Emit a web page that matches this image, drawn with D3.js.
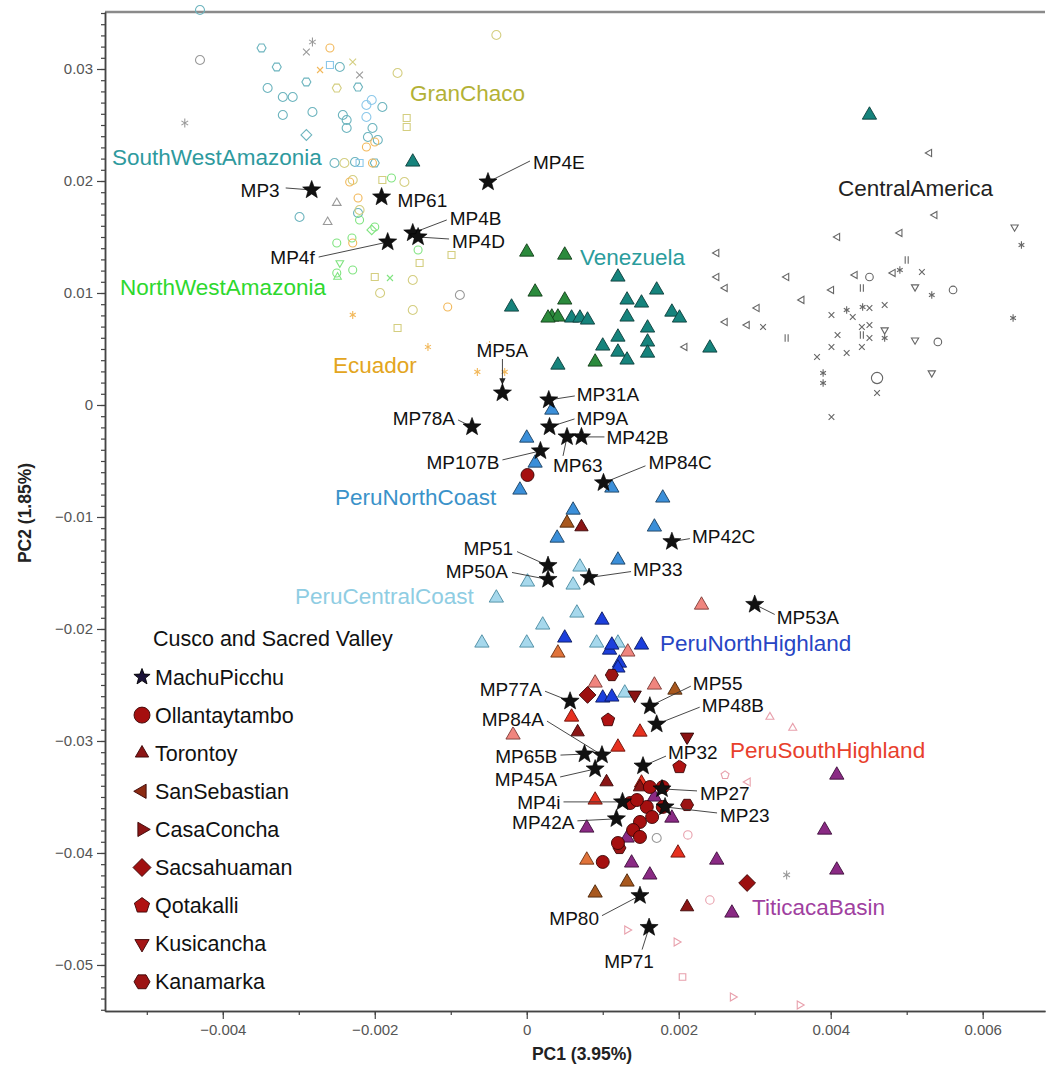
<!DOCTYPE html>
<html>
<head>
<meta charset="utf-8">
<script src="https://cdn.jsdelivr.net/npm/d3@7"></script>
<style>
  body { margin: 0; background: #fff; }
  svg { font-family: "Liberation Sans", Arial, Helvetica, sans-serif; }
</style>
</head>
<body>
<script>
(function(d3) {

  // ---- data (PC1, PC2) ----
  var xTicks = [-0.004, -0.002, 0, 0.002, 0.004, 0.006];
  var yTicks = [0.03, 0.02, 0.01, 0, -0.01, -0.02, -0.03, -0.04, -0.05];

  var machuPicchu = [
    ["MP3", -0.00283, 0.01920], ["MP61", -0.00191, 0.01857], ["MP4E", -0.00051, 0.01991],
    ["MP4B", -0.00150, 0.01536], ["MP4D", -0.00143, 0.01500], ["MP4f", -0.00183, 0.01455],
    ["MP5A", -0.00032, 0.00107], ["MP31A", 0.00029, 0.00045], ["MP9A", 0.00030, -0.00196],
    ["MP63", 0.00053, -0.00285], ["MP42B", 0.00072, -0.00285], ["MP107B", 0.00018, -0.00410],
    ["MP84C", 0.00101, -0.00695], ["MP78A", -0.00072, -0.00196], ["MP51", 0.00028, -0.01434],
    ["MP50A", 0.00028, -0.01558], ["MP33", 0.00082, -0.01541], ["MP42C", 0.00191, -0.01220],
    ["MP53A", 0.00300, -0.01781], ["MP77A", 0.00057, -0.02645], ["MP55", 0.00162, -0.02689],
    ["MP48B", 0.00171, -0.02850], ["MP65B", 0.00076, -0.03117], ["MP84A", 0.00099, -0.03126],
    ["MP45A", 0.00090, -0.03250], ["MP32", 0.00153, -0.03224], ["MP4i", 0.00126, -0.03544],
    ["MP42A", 0.00118, -0.03695], ["MP27", 0.00178, -0.03428], ["MP23", 0.00182, -0.03589],
    ["MP80", 0.00149, -0.04381], ["MP71", 0.00161, -0.04666]
  ];

  var venezuela = [
    [0.00120, 0.01143], [0.00171, 0.01027], [-0.00020, 0.00875], [0.00132, 0.00938], [0.00151, 0.00911],
    [0.00059, 0.00777], [0.00070, 0.00777], [0.00080, 0.00759], [0.00132, 0.00786], [0.00191, 0.00830],
    [0.00201, 0.00777], [0.00159, 0.00688], [0.00120, 0.00607], [0.00100, 0.00527], [0.00159, 0.00563],
    [0.00120, 0.00473], [0.00159, 0.00464], [0.00132, 0.00402], [0.00041, 0.00357], [0.00241, 0.00509],
    [0.00451, 0.02589], [-0.00150, 0.02170]
  ];
  var venezuelaGreen = [
    [0, 0.01366], [0.00050, 0.01339], [0.00011, 0.01009], [0.00050, 0.00938],
    [0.00033, 0.00786], [0.00041, 0.00786], [0.00090, 0.00384], [0.00028, 0.00777]
  ];
  var peruNorthCoast = [
    [0.00033, -0.00045], [0, -0.00295], [0.00011, -0.00518], [-0.00009, -0.00759], [0.00061, -0.00938],
    [0.00040, -0.01188], [0.00179, -0.00830], [0.00168, -0.01089], [0.00120, -0.01384], [0.00112, -0.00741]
  ];
  var peruCentralCoast = [
    [0.00001, -0.01580], [0.00070, -0.01446], [0.00061, -0.01607], [-0.00040, -0.01723], [0.00066, -0.01857],
    [0.00021, -0.01964], [-0.00059, -0.02125], [0, -0.02125], [0.00092, -0.02125], [0.00120, -0.02125],
    [0.00129, -0.02571]
  ];
  var peruNorthHighland = [
    [0.00050, -0.02080], [0.00099, -0.01920], [0.00109, -0.02188], [0.00151, -0.02143], [0.00122, -0.02304],
    [0.00100, -0.02616], [0.00112, -0.02607], [0.00120, -0.02348], [0.00112, -0.02143]
  ];
  var southHighlandRed = [
    [0.00059, -0.02786], [0.00149, -0.02920], [0.00120, -0.03054], [0.00090, -0.03527],
    [0.00199, -0.04000], [0.00151, -0.03375]
  ];
  var southHighlandSalmon = [
    [0.00230, -0.01786], [0.00133, -0.02205], [0.00168, -0.02500], [-0.00018, -0.02946], [0.00090, -0.02482]
  ];
  var southHighlandOrange = [[0.00041, -0.02214], [0.00079, -0.04063]];
  var southHighlandBrown = [[0.00195, -0.02545], [0.00132, -0.04259], [0.00090, -0.04357], [0.00053, -0.01054]];
  var titicacaBasin = [
    [0.00408, -0.03304], [0.00392, -0.03795], [0.00408, -0.04152], [0.00250, -0.04063], [0.00138, -0.04089],
    [0.00162, -0.04196], [0.00270, -0.04536], [0.00079, -0.03777], [0.00168, -0.03500], [0.00132, -0.03866],
    [0.00191, -0.03688]
  ];

  var ollantaytambo = [
    [0.00001, -0.00625], [0.00162, -0.03411], [0.00179, -0.03411], [0.00136, -0.03554], [0.00158, -0.03589],
    [0.00179, -0.03589], [0.00149, -0.03723], [0.00165, -0.03679], [0.00140, -0.03795], [0.00149, -0.03857],
    [0.00120, -0.03911], [0.00100, -0.04080], [0.00145, -0.03527]
  ];
  var torontoy = [[0.00067, -0.02920], [0.00211, -0.04482], [0.00072, -0.01089], [0.00149, -0.03411], [0.00105, -0.03366]];
  var sacsahuaman = [[0.00080, -0.02589], [0.00290, -0.04268]];
  var qotakalli = [[0.00201, -0.03232], [0.00107, -0.02813]];
  var kusicancha = [[0.00142, -0.02589], [0.00211, -0.02964]];
  var kanamarka = [[0.00112, -0.02411], [0.00211, -0.03571], [0.00122, -0.03955]];

  // background reference samples: [PC1, PC2, marker]
  var southWestAmazonia = [
    [-0.00430, 0.03527, "o"], [-0.00349, 0.03188, "hex"], [-0.00329, 0.03018, "hex"], [-0.00290, 0.02884, "hex"],
    [-0.00341, 0.02830, "o"], [-0.00321, 0.02750, "o"], [-0.00308, 0.02750, "o"], [-0.00321, 0.02589, "o"],
    [-0.00282, 0.02616, "o"], [-0.00242, 0.02589, "o"], [-0.00246, 0.03018, "o"], [-0.00222, 0.02839, "hex"],
    [-0.00237, 0.02473, "o"], [-0.00290, 0.02411, "d"], [-0.00253, 0.02161, "o"], [-0.00299, 0.01679, "o"],
    [-0.00222, 0.01714, "o"], [-0.00190, 0.02661, "o"], [-0.00203, 0.02473, "o"], [-0.00237, 0.02545, "o"],
    [-0.00209, 0.02393, "o"], [-0.00196, 0.02366, "o"], [-0.00226, 0.02170, "o"], [-0.00200, 0.02161, "hex"]
  ];
  var amazoniaBlue = [
    [-0.00259, 0.03036, "sq"], [-0.00211, 0.02679, "o"], [-0.00211, 0.02571, "o"],
    [-0.00220, 0.02161, "sq"], [-0.00204, 0.02723, "o"]
  ];
  var otherGray = [
    [-0.00430, 0.03080, "o"], [-0.00290, 0.03152, "x"], [-0.00282, 0.03241, "*"], [-0.00220, 0.02946, "x"],
    [-0.00450, 0.02518, "*"], [-0.00250, 0.01804, "^"], [-0.00262, 0.01634, "^"], [-0.00088, 0.00982, "o"],
    [0.00171, -0.03866, "o"], [0.00342, -0.04196, "*"]
  ];
  var granChaco = [
    [-0.00040, 0.03304, "o"], [-0.00170, 0.02964, "o"], [-0.00229, 0.03063, "x"], [-0.00158, 0.02563, "sq"],
    [-0.00158, 0.02482, "sq"], [-0.00240, 0.02161, "o"], [-0.00229, 0.02009, "o"], [-0.00190, 0.02009, "sq"],
    [-0.00161, 0.01991, "o"], [-0.00220, 0.01741, "o"], [-0.00099, 0.01339, "sq"], [-0.00141, 0.01268, "sq"],
    [-0.00200, 0.01143, "sq"], [-0.00150, 0.01116, "o"], [-0.00193, 0.01000, "o"], [-0.00150, 0.00848, "o"],
    [-0.00170, 0.00688, "sq"], [-0.00250, 0.02830, "hex"]
  ];
  var northWestAmazonia = [
    [-0.00200, 0.01589, "o"], [-0.00250, 0.01446, "o"], [-0.00246, 0.01268, "v"], [-0.00249, 0.01143, "^"],
    [-0.00229, 0.01205, "o"], [-0.00178, 0.02027, "o"], [-0.00220, 0.01652, "o"], [-0.00204, 0.01563, "d"],
    [-0.00230, 0.01491, "o"], [-0.00143, 0.01384, "o"], [-0.00180, 0.01134, "x"], [-0.00250, 0.01179, "o"]
  ];
  var ecuador = [
    [-0.00259, 0.03188, "o"], [-0.00272, 0.02991, "x"], [-0.00211, 0.02304, "o"], [-0.00200, 0.02348, "o"],
    [-0.00203, 0.02161, "o"], [-0.00233, 0.01991, "o"], [-0.00222, 0.01848, "o"], [-0.00229, 0.01446, "o"],
    [-0.00229, 0.00804, "*"], [-0.00104, 0.00875, "o"], [-0.00130, 0.00518, "*"], [-0.00065, 0.00295, "*"],
    [-0.00029, 0.00295, "*"], [-0.00049, 0.00536, "*"]
  ];
  var centralAmerica = [
    [0.00530, 0.02250, "<"], [0.00537, 0.01696, "<"], [0.00491, 0.01536, "<"], [0.00409, 0.01500, "<"],
    [0.00642, 0.01589, "v"], [0.00651, 0.01429, "*"], [0.00500, 0.01295, "|"], [0.00250, 0.01357, "<"],
    [0.00250, 0.01143, "<"], [0.00261, 0.01045, "<"], [0.00342, 0.01143, "<"], [0.00432, 0.01161, "<"],
    [0.00451, 0.01143, "o"], [0.00482, 0.01179, "<"], [0.00491, 0.01205, "*"], [0.00520, 0.01188, "x"],
    [0.00511, 0.01054, "v"], [0.00533, 0.00982, "*"], [0.00561, 0.01027, "o"], [0.00401, 0.01027, "<"],
    [0.00441, 0.01045, "|"], [0.00362, 0.00938, "<"], [0.00303, 0.00866, "<"], [0.00261, 0.00741, "<"],
    [0.00290, 0.00714, "<"], [0.00311, 0.00696, "x"], [0.00421, 0.00848, "*"], [0.00442, 0.00875, "*"],
    [0.00451, 0.00866, "x"], [0.00471, 0.00893, "x"], [0.00401, 0.00804, "x"], [0.00429, 0.00786, "x"],
    [0.00441, 0.00696, "x"], [0.00451, 0.00714, "x"], [0.00471, 0.00670, "v"], [0.00441, 0.00625, "|"],
    [0.00409, 0.00625, "x"], [0.00471, 0.00598, "*"], [0.00451, 0.00598, "x"], [0.00342, 0.00598, "|"],
    [0.00401, 0.00518, "x"], [0.00421, 0.00464, "x"], [0.00441, 0.00518, "x"], [0.00382, 0.00429, "x"],
    [0.00511, 0.00580, "v"], [0.00541, 0.00563, "o"], [0.00640, 0.00777, "*"], [0.00390, 0.00286, "*"],
    [0.00390, 0.00196, "*"], [0.00461, 0.00241, "O"], [0.00461, 0.00107, "x"], [0.00533, 0.00286, "v"],
    [0.00401, -0.00107, "x"], [0.00208, 0.00518, "<"]
  ];
  var southHighlandHollow = [
    [0.00261, -0.03304, "pent"], [0.00291, -0.03366, "<"], [0.00320, -0.02786, "^"], [0.00350, -0.02884, "^"],
    [0.00212, -0.03839, "o"], [0.00241, -0.04420, "o"], [0.00132, -0.04688, ">"], [0.00197, -0.04795, ">"],
    [0.00205, -0.05107, "sq"], [0.00271, -0.05286, ">"], [0.00359, -0.05357, ">"]
  ];

  var legendNames = ["MachuPicchu", "Ollantaytambo", "Torontoy", "SanSebastian", "CasaConcha",
                     "Sacsahuaman", "Qotakalli", "Kusicancha", "Kanamarka"];

  // ---- layout ----
  var svg = d3.select("body").append("svg").attr("width", 1052).attr("height", 1065),
      margin = {top: 12, right: 7, bottom: 54, left: 105},
      width = 1052 - margin.left - margin.right,
      height = 1065 - margin.top - margin.bottom,
      g = svg.append("g").attr("transform", "translate(" + margin.left + "," + margin.top + ")");

  var x = d3.scaleLinear().domain([-0.00555, 0.00682]).range([0, width]);
  var y = d3.scaleLinear().domain([-0.05411, 0.03509]).range([height, 0]);

  // label offsets in px from the star: [textDx, textDy, anchor, lineDx, lineDy]
  var mpLabelLayout = {
    MP3: [-32, 0, "end", -26, -2], MP61: [16, 3, "start"], MP4E: [45, -20, "start", 42, -21],
    MP4B: [37, -15, "start", 34, -13], MP4D: [34, 4, "start", 31, 2], MP4f: [-73, 15, "end", -69, 15],
    MP5A: [0, -43, "middle", 0, -34], MP31A: [28, -6, "start", 26, -4], MP9A: [27, -9, "start", 25, -8],
    MP63: [-14, 28, "start", -4, 19], MP42B: [25, 0, "start", 23, 0], MP107B: [-41, 11, "end", -38, 9],
    MP84C: [45, -20, "start", 42, -17], MP78A: [-17, -9, "end", -14, -7], MP51: [-35, -17, "end", -31, -14],
    MP50A: [-40, -8, "end", -36, -7], MP33: [44, -8, "start", 42, -6], MP42C: [20, -5, "start", 18, -3],
    MP53A: [22, 13, "start", 20, 10], MP77A: [-28, -12, "end", -25, -10], MP55: [43, -23, "start", 41, -20],
    MP48B: [45, -19, "start", 43, -17], MP84A: [-58, -36, "end", -55, -34], MP65B: [-27, 2, "end", -24, 1],
    MP45A: [-38, 10, "end", -35, 8], MP32: [25, -14, "start", 23, -10], MP4i: [-62, 0, "end", -59, 0],
    MP42A: [-42, 4, "end", -39, 2], MP27: [38, 4, "start", 35, 2], MP23: [55, 8, "start", 52, 6],
    MP80: [-41, 23, "end", -38, 20], MP71: [-20, 34, "middle", -7, 22]
  };

  var groupLabels = [
    ["GranChaco", "#b3b136", 410, 93], ["SouthWestAmazonia", "#2e9a9e", 112, 157],
    ["CentralAmerica", "#222", 838, 188], ["Venezuela", "#2a9c9c", 580, 257],
    ["NorthWestAmazonia", "#2ed82e", 120, 287], ["Ecuador", "#e3a520", 333, 365],
    ["PeruNorthCoast", "#3a92c9", 335, 497], ["PeruCentralCoast", "#8fcde3", 295, 596],
    ["PeruNorthHighland", "#2745c4", 660, 643], ["PeruSouthHighland", "#e8402c", 730, 750],
    ["TiticacaBasin", "#a040a0", 752, 907]
  ];

  // ---- marker shapes ----
  function poly(n, r, a0) {
    var pts = d3.range(n).map(function(i) {
      var a = (a0 + i * 360 / n) * Math.PI / 180;
      return [(r * Math.cos(a)).toFixed(2), (r * Math.sin(a)).toFixed(2)];
    });
    return "M" + pts.join("L") + "Z";
  }
  function starPath(ro, ri) {
    var pts = d3.range(10).map(function(i) {
      var a = (-90 + i * 36) * Math.PI / 180, r = i % 2 ? ri : ro;
      return [(r * Math.cos(a)).toFixed(2), (r * Math.sin(a)).toFixed(2)];
    });
    return "M" + pts.join("L") + "Z";
  }
  function shapePath(s, r) {
    var k = r * 0.75;
    switch (s) {
      case "o": return d3.symbol(d3.symbolCircle, Math.PI * r * r)();
      case "O": return d3.symbol(d3.symbolCircle, Math.PI * r * r * 2.2)();
      case "sq": return poly(4, r * 1.1, 45);
      case "d": return poly(4, r * 1.2, 0);
      case "^": return poly(3, r * 1.1, -90);
      case "v": return poly(3, r * 1.1, 90);
      case "<": return poly(3, r * 1.1, 180);
      case ">": return poly(3, r * 1.1, 0);
      case "pent": return poly(5, r, -90);
      case "hex": return poly(6, r, 0);
      case "x": return "M" + -k + "," + -k + "L" + k + "," + k + "M" + -k + "," + k + "L" + k + "," + -k;
      case "*": return "M0," + -r + "L0," + r + "M" + -k + "," + -k / 1.6 + "L" + k + "," + k / 1.6 +
                       "M" + -k + "," + k / 1.6 + "L" + k + "," + -k / 1.6;
      case "|": return "M-1.5," + -r + "L-1.5," + r + "M1.5," + -r + "L1.5," + r;
    }
  }

  // ---- axes ----
  g.append("line").attr("x1", 0).attr("x2", width).attr("y1", 0).attr("y2", 0)
      .attr("stroke", "#8a8a8a").attr("stroke-width", 2.5);

  var minorX = d3.range(-5, 7).map(function(i) { return i / 1000; });
  var minorY = d3.range(-54, 36).map(function(i) { return i / 1000; });

  g.append("g").attr("transform", "translate(0," + height + ")")
      .call(d3.axisBottom(x).tickValues(minorX).tickSize(4).tickSizeOuter(0).tickFormat(""));
  g.append("g")
      .call(d3.axisLeft(y).tickValues(minorY).tickSize(4).tickSizeOuter(0).tickFormat(""));

  var xAxisG = g.append("g").attr("transform", "translate(0," + height + ")")
      .call(d3.axisBottom(x).tickValues(xTicks).tickSize(8).tickSizeOuter(0).tickPadding(5)
        .tickFormat(d3.format(".3~f")));
  var yAxisG = g.append("g")
      .call(d3.axisLeft(y).tickValues(yTicks).tickSize(8).tickSizeOuter(0).tickPadding(4)
        .tickFormat(d3.format(".2~f")));

  g.selectAll(".domain").attr("stroke", "#444").attr("stroke-width", 1.5);
  g.selectAll(".tick line").attr("stroke", "#444").attr("stroke-width", 1.2);
  [xAxisG, yAxisG].forEach(function(a) {
    a.selectAll("text").attr("font-size", 15).attr("fill", "#555")
        .attr("font-family", "'Liberation Sans', Arial, sans-serif");
  });

  svg.append("text").attr("x", 582).attr("y", 1060).attr("text-anchor", "middle")
      .attr("font-size", 17.5).attr("font-weight", "bold").attr("fill", "#222").text("PC1 (3.95%)");
  svg.append("text").attr("transform", "translate(31,513) rotate(-90)").attr("text-anchor", "middle")
      .attr("font-size", 17.5).attr("font-weight", "bold").attr("fill", "#222").text("PC2 (1.85%)");

  // ---- marks ----
  var plot = g.append("g");

  function hollow(data, color, r) {
    plot.append("g").selectAll("path").data(data).enter().append("path")
        .attr("transform", function(d) { return "translate(" + x(d[0]) + "," + y(d[1]) + ")"; })
        .attr("d", function(d) { return shapePath(d[2], r); })
        .attr("fill", "none").attr("stroke", color).attr("stroke-width", 1.1);
  }
  function filled(data, shape, fill, stroke, r) {
    plot.append("g").selectAll("path").data(data).enter().append("path")
        .attr("transform", function(d) { return "translate(" + x(d[0]) + "," + y(d[1]) + ")"; })
        .attr("d", shapePath(shape, r))
        .attr("fill", fill).attr("stroke", stroke).attr("stroke-width", 0.9);
  }

  hollow(otherGray, "#999", 4.5);
  hollow(southWestAmazonia, "#6cb4be", 4.5);
  hollow(amazoniaBlue, "#8cc8ea", 4.5);
  hollow(granChaco, "#d4ce80", 4.5);
  hollow(northWestAmazonia, "#80e480", 4);
  hollow(ecuador, "#f2b85a", 4);
  hollow(centralAmerica, "#666", 3.8);
  hollow(southHighlandHollow, "#e8a0ac", 4.2);

  filled(venezuela, "^", "#16837c", "#0c3d3a", 7.5);
  filled(venezuelaGreen, "^", "#2b8a3c", "#123d18", 7.5);
  filled(peruNorthCoast, "^", "#3b8fd9", "#1b3f60", 7.5);
  filled(peruCentralCoast, "^", "#a6d8ec", "#4a8aa0", 7.5);
  filled(peruNorthHighland, "^", "#1c3fdc", "#0b1a60", 7.5);
  filled(southHighlandSalmon, "^", "#f0857e", "#7a3a36", 7.5);
  filled(southHighlandOrange, "^", "#e0733a", "#6a3010", 7.5);
  filled(southHighlandBrown, "^", "#a8581e", "#4a2508", 7.5);
  filled(southHighlandRed, "^", "#e6301f", "#6a1008", 7.5);
  filled(titicacaBasin, "^", "#8a2a84", "#3d0f3a", 7.5);

  filled(torontoy, "^", "#8b1515", "#3a0505", 7);
  filled(kusicancha, "v", "#8a1212", "#2a0303", 7);
  filled(sacsahuaman, "d", "#9c1010", "#3a0505", 7);
  filled(kanamarka, "hex", "#9c1414", "#3a0505", 6.5);
  filled(qotakalli, "pent", "#b01212", "#3a0505", 7);
  filled(ollantaytambo, "o", "#a50f0f", "#3a0505", 6.5);

  // ---- MachuPicchu stars with labels ----
  svg.append("defs").append("marker").attr("id", "arrow")
      .attr("viewBox", "0 0 10 10").attr("refX", 9).attr("refY", 5)
      .attr("markerWidth", 7).attr("markerHeight", 7).attr("orient", "auto")
    .append("path").attr("d", "M0,0L10,5L0,10Z").attr("fill", "#222");

  machuPicchu.forEach(function(d) {
    var L = mpLabelLayout[d[0]], sx = x(d[1]), sy = y(d[2]);
    if (L.length > 3) {
      var ln = plot.append("line").attr("x1", sx + L[3]).attr("y1", sy + L[4])
          .attr("stroke", "#333").attr("stroke-width", 0.9);
      if (d[0] === "MP5A") ln.attr("x2", sx).attr("y2", sy - 9).attr("marker-end", "url(#arrow)");
      else ln.attr("x2", sx).attr("y2", sy);
    }
  });

  plot.append("g").selectAll("path").data(machuPicchu).enter().append("path")
      .attr("transform", function(d) { return "translate(" + x(d[1]) + "," + y(d[2]) + ")"; })
      .attr("d", starPath(9.5, 4))
      .attr("fill", "#111").attr("stroke", "#000").attr("stroke-width", 0.6);

  plot.append("g").selectAll("text").data(machuPicchu).enter().append("text")
      .attr("x", function(d) { return x(d[1]) + mpLabelLayout[d[0]][0]; })
      .attr("y", function(d) { return y(d[2]) + mpLabelLayout[d[0]][1]; })
      .attr("dy", "0.35em")
      .attr("text-anchor", function(d) { return mpLabelLayout[d[0]][2]; })
      .attr("font-size", 19).attr("fill", "#111")
      .attr("paint-order", "stroke").attr("stroke", "#fff").attr("stroke-width", 2.5)
      .text(function(d) { return d[0]; });

  // ---- group labels ----
  svg.append("g").selectAll("text").data(groupLabels).enter().append("text")
      .attr("x", function(d) { return d[2]; })
      .attr("y", function(d) { return d[3]; })
      .attr("dy", "0.35em")
      .attr("font-size", 22.5).attr("fill", function(d) { return d[1]; })
      .attr("paint-order", "stroke").attr("stroke", "#fff").attr("stroke-width", 3)
      .text(function(d) { return d[0]; });

  // ---- legend ----
  var legend = svg.append("g");
  legend.append("text").attr("x", 153).attr("y", 638).attr("dy", "0.35em")
      .attr("font-size", 21.5).attr("fill", "#111").text("Cusco and Sacred Valley");

  var legendMarks = [
    [starPath(8.5, 3.6), "#1a1238", "#000"], [shapePath("o", 8), "#a50f0f", "#3a0505"],
    [shapePath("^", 7), "#8b1515", "#3a0505"], [shapePath("<", 7.5), "#8b2a12", "#3a0505"],
    [shapePath(">", 7.5), "#8b1515", "#3a0505"], [shapePath("d", 7.5), "#a01010", "#3a0505"],
    [shapePath("pent", 8), "#b01212", "#3a0505"], [shapePath("v", 7.5), "#a51515", "#3a0505"],
    [shapePath("hex", 8), "#9c1414", "#3a0505"]
  ];
  var entries = legend.selectAll("g.entry").data(legendNames).enter().append("g")
      .attr("class", "entry")
      .attr("transform", function(d, i) { return "translate(0," + (677 + i * 38.1) + ")"; });
  entries.append("path").attr("transform", "translate(142,0)")
      .attr("d", function(d, i) { return legendMarks[i][0]; })
      .attr("fill", function(d, i) { return legendMarks[i][1]; })
      .attr("stroke", function(d, i) { return legendMarks[i][2]; }).attr("stroke-width", 0.9);
  entries.append("text").attr("x", 155).attr("dy", "0.35em")
      .attr("font-size", 21.5).attr("fill", "#111").text(function(d) { return d; });

}(d3));
</script>
</body>
</html>
